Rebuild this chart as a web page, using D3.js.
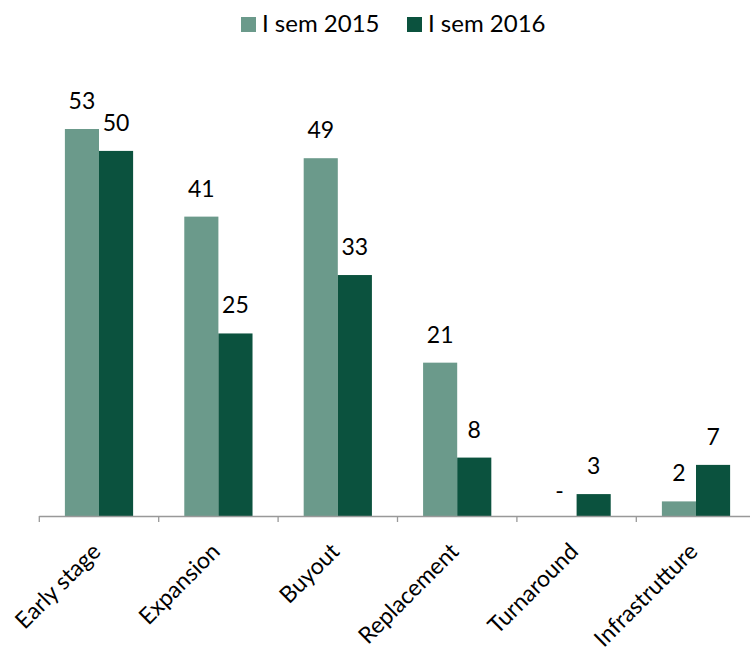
<!DOCTYPE html>
<html><head><meta charset="utf-8">
<script src="https://cdn.jsdelivr.net/npm/d3@7"></script>
<style>body{margin:0;background:#fff}svg{display:block}text{font-family:Lato,"Open Sans",sans-serif;fill:#000}</style>
</head><body><svg id="c" width="750" height="654"></svg>
<script>
const categories = ["Early stage","Expansion","Buyout","Replacement","Turnaround","Infrastrutture"];
const seriesNames = ["I sem 2015","I sem 2016"];
const values2015 = [53,41,49,21,null,2];
const values2016 = [50,25,33,8,3,7];
const colors = ["#6b9a8b","#0b523e"];

const svg = d3.select("#c");
const x0 = 39.3, bandW = 119.4, baseY = 516;
const x = d3.scaleBand().domain(categories).range([x0, x0 + bandW*categories.length]).paddingInner(0).paddingOuter(0);
const inner = d3.scaleBand().domain(seriesNames).range([0, x.bandwidth()]).paddingInner(0).paddingOuter(0.75);
const y = d3.scaleLinear().domain([0,53]).range([baseY, 129]);

const data = categories.map((c,i)=>({cat:c, vals:[values2015[i], values2016[i]]}));
const g = svg.append("g");
data.forEach(d=>{
  d.vals.forEach((v,j)=>{
    const bx = x(d.cat) + inner(seriesNames[j]);
    const bw = inner.bandwidth();
    const val = v==null?0:v;
    if (v!=null) g.append("rect").attr("x",bx).attr("y",y(val)).attr("width",bw).attr("height",baseY-y(val)).attr("fill",colors[j]);
    g.append("text").attr("x",bx+bw/2).attr("y",y(val)-(v==null?17:20)).attr("text-anchor","middle")
      .style("font-size","23px").text(v==null?"-":v);
  });
});

// axis
const axis = d3.axisBottom(x).tickSize(0).tickFormat("");
const ax = svg.append("g").attr("transform",`translate(0,${baseY})`).call(axis);
ax.select(".domain").remove();
svg.append("line").attr("x1",x0).attr("x2",750).attr("y1",baseY+0.5).attr("y2",baseY+0.5).attr("stroke","#999").attr("stroke-width",1.3);
const bounds = d3.range(categories.length+1).map(i=>x0+i*bandW);
svg.selectAll(".tk").data(bounds).enter().append("line").attr("x1",d=>d).attr("x2",d=>d).attr("y1",baseY).attr("y2",baseY+6).attr("stroke","#999").attr("stroke-width",1.3);
svg.selectAll(".cl").data(categories).enter().append("text")
  .attr("transform",d=>`translate(${x(d)+x.bandwidth()/2+3},${baseY+37}) rotate(-45)`)
  .attr("text-anchor","end").style("font-size","23px").text(d=>d);

// legend
const leg = svg.append("g");
const lx = [241, 407];
seriesNames.forEach((s,i)=>{
  leg.append("rect").attr("x",lx[i]).attr("y",17).attr("width",15).attr("height",15).attr("fill",colors[i]);
  leg.append("text").attr("x",lx[i]+21).attr("y",32).style("font-size","24px").text(s);
});
</script></body></html>
